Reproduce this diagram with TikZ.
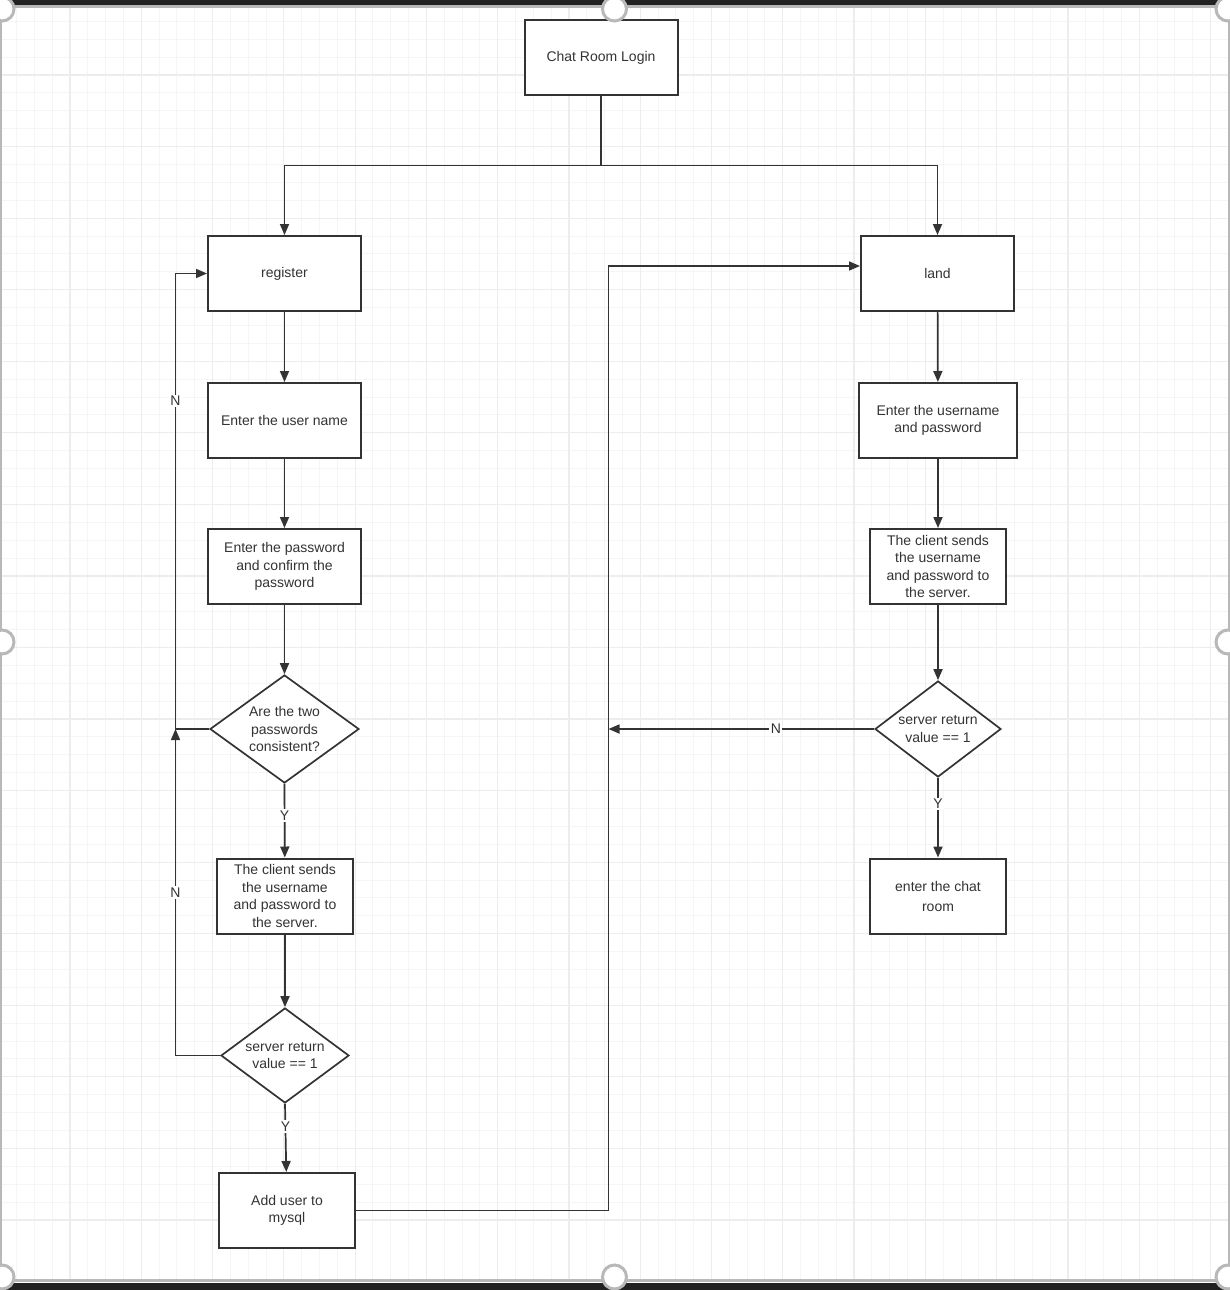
\documentclass[tikz,border=0pt]{standalone}
\usepackage{fontspec}
\setmainfont{Liberation Sans}
\usetikzlibrary{shapes.geometric,arrows.meta}
\definecolor{ink}{HTML}{333333}
\definecolor{gminor}{HTML}{F5F5F5}
\definecolor{gmajor}{HTML}{EDEDED}
\definecolor{frame}{HTML}{B8B8B8}
\definecolor{bar}{HTML}{222222}
\begin{document}
\begin{tikzpicture}[x=1pt,y=-1pt,
  txt/.style={text=ink, font=\fontsize{14}{17.5}\selectfont, align=center},
  box/.style={txt, draw=ink, line width=2pt, fill=white, minimum width=153pt, minimum height=75pt, inner sep=0pt},
  sbox/.style={box, minimum width=136pt},
  dia/.style={diamond, draw=ink, line width=1.7pt, fill=white, inner sep=0pt},
  conn/.style={draw=ink, line width=1.7pt},
  arr/.style={conn, -{Triangle[length=11pt,width=9pt]}},
  lab/.style={txt, fill=white, inner sep=1.5pt},
  handle/.style={draw=frame, line width=3pt, fill=white}]
\useasboundingbox (0,0) rectangle (1230,1290);
\fill[white] (0,0) rectangle (1230,1290);
% grid
\foreach \k in {-3,...,65} {\draw[gminor, line width=1pt] ({70+\k*17.82},7) -- ({70+\k*17.82},1280);}
\foreach \k in {-3,...,68} {\draw[gminor, line width=1pt] (2,{75+(\k-4)*17.89}) -- (1228,{75+(\k-4)*17.89});}
\foreach \k in {-1,...,16} {\draw[gmajor, line width=1.2pt] ({70+\k*71.28},7) -- ({70+\k*71.28},1280);}
\foreach \k in {-1,...,17} {\draw[gmajor, line width=1.2pt] (2,{75+(\k-1)*71.56}) -- (1228,{75+(\k-1)*71.56});}
% frame
\fill[bar] (0,0) rectangle (1230,5);
\fill[bar] (0,1283) rectangle (1230,1290);
\draw[frame, line width=2.5pt] (1,6.5) -- (1229,6.5) -- (1229,1280.5) -- (1,1280.5) -- cycle;

% nodes
\node[box] (login) at (601,57.5) {Chat Room Login};
\node[box] (reg) at (284.5,273.5) {register};
\node[box] (user) at (284.5,420.5) {Enter the user name};
\node[box] (pass) at (284.5,566.5) {Enter the password\\and confirm the\\password};
\node[dia, minimum width=149pt, minimum height=108pt] (d1) at (284.5,729) {};
\node[txt] (d1t) at (d1.center) {Are the two\\passwords\\consistent?};
\node[sbox] (send1) at (285,896) {The client sends\\the username\\and password to\\the server.};
\node[dia, minimum width=128pt, minimum height=95pt] (d2) at (285,1055.5) {};
\node[txt] (d2t) at (d2.center) {server return\\value == 1};
\node[sbox] (add) at (287,1210.5) {Add user to\\mysql};

\node[box] (land) at (937.5,273.5) {land};
\node[box, minimum width=158pt] (lup) at (938,420.5) {Enter the username\\and password};
\node[sbox] (send2) at (938,566.5) {The client sends\\the username\\and password to\\the server.};
\node[dia, minimum width=126pt, minimum height=96pt] (d3) at (938,729) {};
\node[txt] (d3t) at (d3.center) {server return\\value == 1};
\node[sbox] (chat) at (938,896) {enter the chat\\[2.5pt]room};

% helper coordinates
\coordinate (split) at (601,165.5);
\coordinate (c1) at (175.5,729);
\coordinate (c2) at (608.5,729);

% connectors
\draw[conn] (login.south) -- (split);
\draw[arr] (split) -| (reg.north);
\draw[arr] (split) -| (land.north);
\draw[arr] (reg) -- (user);
\draw[arr] (user) -- (pass);
\draw[arr] (pass) -- (d1.north);
\draw[arr] (d1.south) -- node[lab, pos=0.43] (y1) {Y} (send1);
\draw[arr] (d1.west) -- (c1) |- node[lab, pos=0.36] (n1) {N} (reg.west);
\draw[arr] (send1) -- (d2.north);
\draw[arr] (d2.west) -| node[lab, pos=0.75] (n2) {N} (c1);
\draw[arr] (d2.south) -- node[lab, pos=0.33] (y2) {Y} (add);
\draw[arr] (add.east) -| ([yshift=7.5pt]land.west -| c2) -- ([yshift=7.5pt]land.west);

\draw[arr] (land) -- (lup);
\draw[arr] (lup) -- (send2);
\draw[arr] (send2) -- (d3.north);
\draw[arr] (d3.west) -- node[lab, pos=0.37] (n3) {N} (c2);
\draw[arr] (d3.south) -- node[lab, pos=0.33] (y3) {Y} (chat);

% selection handles
\foreach \p in {(2,9),(614.5,9),(1228,9),(2,642),(1228,642),(2,1277),(614.5,1277),(1228,1277)}
  \draw[handle] \p circle (12pt);
\end{tikzpicture}
\end{document}
